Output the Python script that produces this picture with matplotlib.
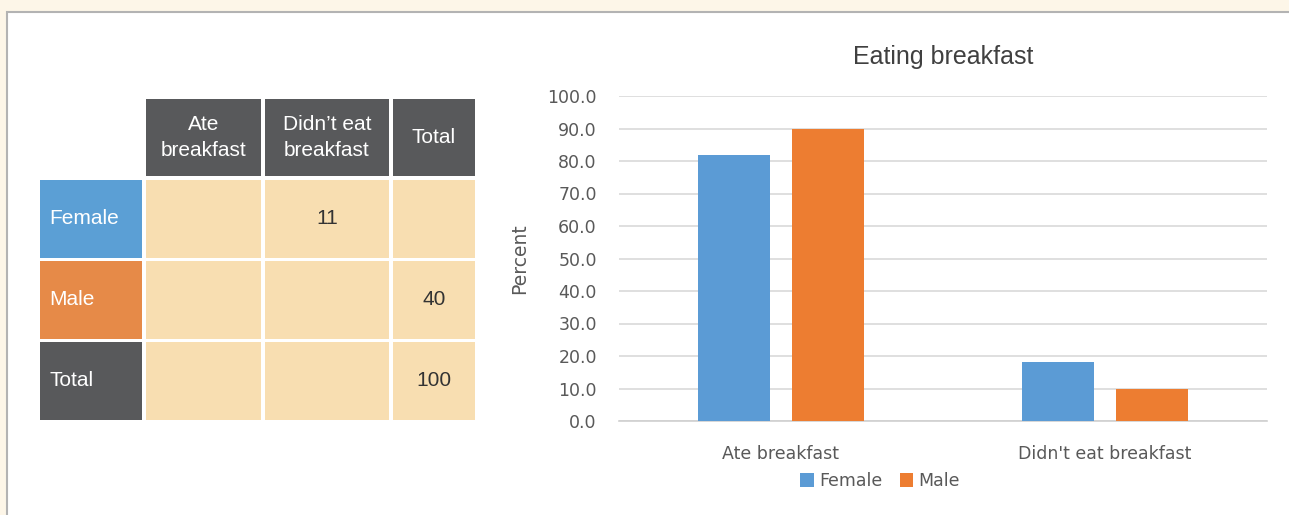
import numpy as np
import matplotlib.pyplot as plt
from matplotlib.patches import Rectangle, Patch

# data
table_cols = ["Ate\nbreakfast", "Didn\u2019t eat\nbreakfast", "Total"]
table_rows = ["Female", "Male", "Total"]
table_values = [["", "11", ""],
                ["", "", "40"],
                ["", "", "100"]]

categories = ["Ate breakfast", "Didn't eat breakfast"]
female_pct = [81.7, 18.3]
male_pct = [90.0, 10.0]
y_ticks = np.arange(0, 101, 10)

W, H = 1289, 515
fig = plt.figure(figsize=(W / 100, H / 100), dpi=100, facecolor='#fdf6e8')

# white panel with grey border (runs off the right/bottom edge)
fig.patches.append(Rectangle((7 / W, -0.1), 1.2, 1.1 - 12 / H, transform=fig.transFigure,
                             facecolor='white', edgecolor='#b3b3b3', linewidth=1.5,
                             zorder=-10))

# ---- table on the left ----
tab = fig.add_axes([40 / W, 1 - 420 / H, 435 / W, 321 / H])
tab.set_xlim(40, 475)
tab.set_ylim(420, 99)
tab.axis('off')

col_edges = [(40, 142), (146, 261), (265, 389), (393, 475)]
row_edges = [(99, 176), (180, 258), (261, 339), (342, 420)]
row_colors = ['#5b9fd5', '#e68a48', '#58595b']
head_color = '#58595b'
cell_color = '#f8deb1'
tfont = dict(family=['Liberation Sans', 'DejaVu Sans'], fontsize=15)

# header row
for j, lab in enumerate(table_cols):
    x0, x1 = col_edges[j + 1]
    y0, y1 = row_edges[0]
    tab.add_patch(Rectangle((x0, y0), x1 - x0, y1 - y0, facecolor=head_color, edgecolor='none'))
    tab.text((x0 + x1) / 2, (y0 + y1) / 2, lab, ha='center', va='center', color='white',
             linespacing=1.45, **tfont)

for i, rlab in enumerate(table_rows):
    y0, y1 = row_edges[i + 1]
    x0, x1 = col_edges[0]
    tab.add_patch(Rectangle((x0, y0), x1 - x0, y1 - y0, facecolor=row_colors[i], edgecolor='none'))
    tab.text(x0 + 9, (y0 + y1) / 2, rlab, ha='left', va='center', color='white', **tfont)
    for j, val in enumerate(table_values[i]):
        cx0, cx1 = col_edges[j + 1]
        tab.add_patch(Rectangle((cx0, y0), cx1 - cx0, y1 - y0, facecolor=cell_color, edgecolor='none'))
        if val:
            tab.text((cx0 + cx1) / 2, (y0 + y1) / 2, val, ha='center', va='center',
                     color='#333333', **tfont)

# ---- bar chart on the right ----
ax = fig.add_axes([619 / W, 1 - 421 / H, 648 / W, 325 / H])
ax.patch.set_alpha(0)
x = np.arange(len(categories))
bw = 0.222
off = 0.145
ax.bar(x - off, female_pct, bw, color='#5b9bd5', label='Female', zorder=3)
ax.bar(x + off, male_pct, bw, color='#ed7d31', label='Male', zorder=3)

ax.set_xlim(-0.5, 1.5)
ax.set_ylim(0, 100)
ax.set_yticks(y_ticks)
ax.set_yticklabels([f"{v:.1f}" for v in y_ticks])
ax.set_xticks(x)
ax.set_xticklabels(categories)
ax.grid(axis='y', color='#d9d9d9', linewidth=1.2, zorder=0)
ax.set_axisbelow(True)
for s in ['top', 'right', 'left']:
    ax.spines[s].set_visible(False)
ax.spines['bottom'].set_color('#d0d0d0')
ax.spines['bottom'].set_linewidth(1.2)
ax.tick_params(axis='y', length=0, pad=16, labelsize=12.5, labelcolor='#595959')
ax.tick_params(axis='x', length=0, pad=17, labelsize=12.5, labelcolor='#595959')
ax.set_ylabel('Percent', fontsize=13.5, color='#595959')
ax.yaxis.set_label_coords(-0.139, 0.5)

fig.text(943 / W, 1 - 57 / H, 'Eating breakfast', ha='center', va='center', fontsize=18,
         family=['Liberation Sans', 'DejaVu Sans'], color='#404040')

handles = [Patch(facecolor='#5b9bd5', label='Female'), Patch(facecolor='#ed7d31', label='Male')]
fig.legend(handles=handles, loc='center', bbox_to_anchor=(880 / W, 1 - 481 / H), ncol=2,
           frameon=False, fontsize=12.5, labelcolor='#595959', handlelength=0.8,
           handleheight=0.8, handletextpad=0.3, columnspacing=1.0)

fig.savefig('out.png', dpi=100, facecolor=fig.get_facecolor())
